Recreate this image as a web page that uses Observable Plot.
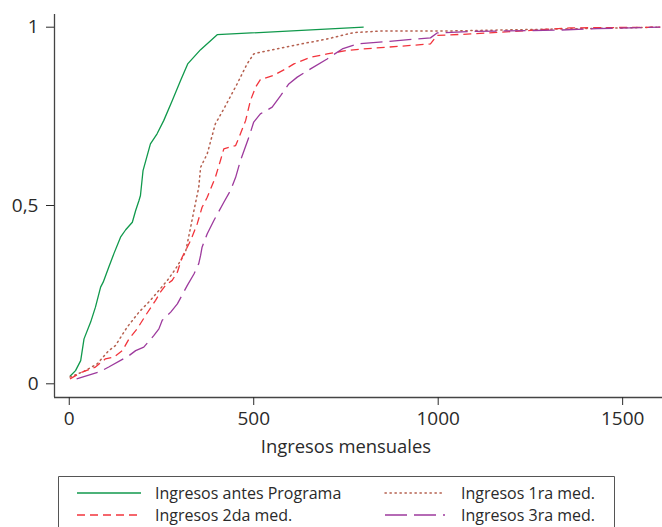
<!DOCTYPE html>
<html><head><meta charset="utf-8">
<script src="https://cdn.jsdelivr.net/npm/d3@7"></script>
<script src="https://cdn.jsdelivr.net/npm/@observablehq/plot@0.6"></script>
<style>
body{margin:0;background:#fff;font-family:"Open Sans",sans-serif;}
#chart{width:662px;height:527px;position:relative;overflow:hidden;background:#fff}
#legend{position:absolute;left:0;top:470px}
</style></head><body><div id="chart"></div>
<script>
// Ingresos antes Programa
const antesX=[2,17,31,40,58,71,85,92,107,121,139,153,171,180,189,193,200,220,238,256,279,302,321,356,401,798];
const antesY=[0.021,0.037,0.065,0.126,0.173,0.215,0.271,0.285,0.327,0.365,0.411,0.432,0.453,0.486,0.514,0.528,0.598,0.673,0.701,0.738,0.794,0.851,0.897,0.937,0.979,1.0];
// Ingresos 1ra med.
const med1X=[2,40,76,107,125,157,189,220,243,266,288,302,315,329,338,351,356,374,396,419,455,482,500,518,609,699,771,844,1006,1602];
const med1Y=[0.019,0.035,0.056,0.093,0.107,0.159,0.201,0.234,0.262,0.29,0.322,0.346,0.369,0.439,0.486,0.551,0.607,0.645,0.729,0.771,0.841,0.897,0.925,0.93,0.949,0.967,0.985,0.989,0.989,1.0];
// Ingresos 2da med.
const med2X=[2,35,58,71,98,121,144,162,184,207,234,247,261,279,293,306,329,347,360,374,396,410,419,451,464,478,491,505,518,554,586,609,654,699,753,798,979,997,1088,1250,1358,1602];
const med2Y=[0.014,0.033,0.042,0.047,0.07,0.075,0.093,0.126,0.154,0.192,0.234,0.257,0.276,0.29,0.313,0.355,0.402,0.449,0.495,0.523,0.579,0.627,0.659,0.668,0.701,0.738,0.794,0.832,0.853,0.865,0.883,0.897,0.916,0.925,0.935,0.939,0.953,0.977,0.981,0.991,0.998,1.0];
// Ingresos 3ra med.
const med3X=[20,85,107,162,180,202,229,243,252,275,293,320,338,351,356,360,374,392,419,437,451,464,487,500,518,537,550,573,595,618,654,699,740,780,979,997,1088,1331,1431,1602];
const med3Y=[0.014,0.035,0.047,0.079,0.093,0.103,0.135,0.154,0.178,0.201,0.224,0.276,0.308,0.337,0.36,0.383,0.421,0.458,0.509,0.542,0.579,0.626,0.692,0.734,0.757,0.768,0.776,0.808,0.841,0.86,0.883,0.911,0.939,0.953,0.97,0.984,0.988,0.992,0.996,1.0];

const xTicks=[0,500,1000,1500];
const yTicks=[0,0.5,1];
const yTickLabels=["0","0,5","1"];
const xLabel="Ingresos mensuales";
const seriesNames=["Ingresos antes Programa","Ingresos 1ra med.","Ingresos 2da med.","Ingresos 3ra med."];
const seriesColors=["#10994c","#b5604f","#f2343c","#9d3a9d"];
const seriesDash=[null,"1.3,3.7","8,5","22,7"];

const toRows=(xs,ys)=>xs.map((x,i)=>({x,y:ys[i]}));
const series=[toRows(antesX,antesY),toRows(med1X,med1Y),toRows(med2X,med2Y),toRows(med3X,med3Y)];

const xDomain=[-40,1608], yDomain=[-0.0384,1.0356];

const plot=Plot.plot({
  width:662,height:470,marginLeft:54,marginRight:0,marginTop:14,marginBottom:73,
  style:{fontFamily:"'Open Sans',sans-serif",fontSize:"19px",color:"#2a2a2a",background:"white",overflow:"visible"},
  x:{domain:xDomain},
  y:{domain:yDomain},
  marks:[
    Plot.ruleY([yDomain[0]],{stroke:"#444",strokeWidth:1.3}),
    Plot.ruleX([xDomain[0]],{stroke:"#444",strokeWidth:1.3}),
    Plot.axisX({ticks:xTicks,tickSize:8,tickPadding:6,label:null,fontSize:19,tickFormat:d=>String(d)}),
    Plot.axisY({ticks:yTicks,tickSize:8,tickPadding:8,label:null,fontSize:19,tickFormat:d=>yTickLabels[yTicks.indexOf(d)]}),
    ...series.map((s,i)=>Plot.line(s,{x:"x",y:"y",stroke:seriesColors[i],strokeWidth:i===1?1.5:1.3,strokeDasharray:seriesDash[i],strokeLinecap:i===1?"round":"butt"})),
    Plot.text([xLabel],{x:d3.mean([xTicks[0],xTicks[xTicks.length-1]]),frameAnchor:"bottom",dy:55,fontSize:18.4,fill:"#2a2a2a"})
  ]
});
document.getElementById("chart").appendChild(plot);

// Legend
const ns="http://www.w3.org/2000/svg";
const leg=d3.create("svg").attr("xmlns",ns).attr("width",662).attr("height",57).attr("id","legend")
  .style("font-family","'Open Sans',sans-serif");
leg.append("path").attr("d","M58.5,60 V6.5 H614.5 V60").attr("fill","none").attr("stroke","#555").attr("stroke-width",1);
const order=[0,1,2,3];
const pos=[{lx:77,lx2:141,tx:155,y:23},{lx:385,lx2:445,tx:461,y:23},{lx:77,lx2:141,tx:155,y:45},{lx:385,lx2:445,tx:461,y:45}];
order.forEach((si,k)=>{
  const p=pos[k];
  leg.append("line").attr("x1",p.lx).attr("x2",p.lx2).attr("y1",p.y).attr("y2",p.y)
    .attr("stroke",seriesColors[si]).attr("stroke-width",si===1?1.5:1.3)
    .attr("stroke-dasharray",seriesDash[si]).attr("stroke-linecap",si===1?"round":"butt");
  leg.append("text").attr("x",p.tx).attr("y",p.y).attr("dy","0.35em").attr("font-size",16).attr("fill","#2a2a2a").text(seriesNames[si]);
});
document.getElementById("chart").appendChild(leg.node());
</script>
</body></html>
